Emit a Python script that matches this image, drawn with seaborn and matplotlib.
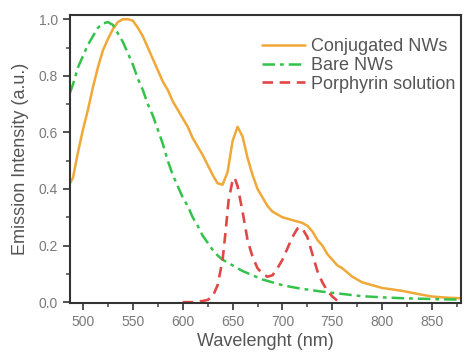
import numpy as np
import pandas as pd
import matplotlib
matplotlib.use("Agg")
import matplotlib.pyplot as plt
from matplotlib.ticker import MultipleLocator, FormatStrFormatter
import seaborn as sns

# ---- data ----
conj_nm = [487, 490, 495, 500, 505, 510, 515, 520, 525, 530, 535, 540, 545, 550,
           555, 560, 565, 570, 575, 580, 585, 590, 595, 600, 605, 610, 615, 620,
           625, 630, 635, 640, 645, 650, 655, 660, 665, 670, 675, 680, 685, 690,
           695, 700, 705, 710, 715, 720, 725, 730, 735, 740, 745, 750, 755, 760,
           770, 780, 790, 800, 810, 820, 830, 840, 850, 860, 870, 878]
conj_val = [0.42, 0.44, 0.53, 0.61, 0.68, 0.76, 0.83, 0.89, 0.93, 0.965, 0.99, 1.0, 1.0, 0.995,
            0.97, 0.94, 0.90, 0.86, 0.82, 0.78, 0.75, 0.71, 0.68, 0.65, 0.62, 0.58, 0.55, 0.52,
            0.485, 0.45, 0.42, 0.415, 0.46, 0.57, 0.62, 0.585, 0.51, 0.45, 0.40, 0.37, 0.34, 0.32,
            0.31, 0.30, 0.295, 0.29, 0.285, 0.28, 0.27, 0.25, 0.22, 0.20, 0.17, 0.15, 0.13, 0.12,
            0.09, 0.07, 0.06, 0.05, 0.045, 0.04, 0.033, 0.026, 0.02, 0.017, 0.015, 0.014]

bare_nm = [487, 490, 495, 500, 505, 510, 515, 520, 525, 530, 535, 540, 545, 550,
           555, 560, 565, 570, 575, 580, 585, 590, 595, 600, 605, 610, 615, 620,
           625, 630, 635, 640, 645, 650, 660, 670, 680, 690, 700, 710, 720, 730,
           740, 750, 760, 770, 780, 800, 820, 840, 860, 878]
bare_val = [0.74, 0.77, 0.83, 0.87, 0.91, 0.94, 0.97, 0.985, 0.99, 0.98, 0.95, 0.92, 0.88, 0.84,
            0.79, 0.75, 0.70, 0.66, 0.61, 0.56, 0.50, 0.45, 0.41, 0.37, 0.34, 0.30, 0.27, 0.235,
            0.21, 0.185, 0.165, 0.15, 0.14, 0.13, 0.11, 0.095, 0.08, 0.07, 0.06, 0.053, 0.047, 0.042,
            0.037, 0.033, 0.029, 0.025, 0.021, 0.017, 0.014, 0.012, 0.01, 0.009]

porph_nm = [600, 610, 615, 620, 625, 630, 635, 640, 643, 646, 650, 652, 655, 660,
            665, 670, 675, 680, 685, 690, 695, 700, 705, 710, 715, 718, 720, 725,
            730, 735, 740, 745, 750, 755, 760]
porph_val = [0.0, 0.0, 0.002, 0.004, 0.008, 0.02, 0.06, 0.15, 0.25, 0.36, 0.43, 0.44, 0.41, 0.32,
             0.22, 0.16, 0.12, 0.10, 0.09, 0.095, 0.12, 0.15, 0.19, 0.23, 0.26, 0.265, 0.26, 0.23,
             0.17, 0.11, 0.07, 0.04, 0.02, 0.005, 0.0]

labels = ["Conjugated NWs", "Bare NWs", "Porphyrin solution"]
x_ticks = [500, 550, 600, 650, 700, 750, 800, 850]
y_ticks = [0.0, 0.2, 0.4, 0.6, 0.8, 1.0]

sns.set_style("ticks")
plt.rcParams["font.family"] = ["Liberation Sans", "DejaVu Sans"]

fig = plt.figure(figsize=(4.65, 3.54), dpi=100)
ax = fig.add_axes([70 / 465, (354 - 303) / 354, 391 / 465, 288 / 354])

df_c = pd.DataFrame({"nm": conj_nm, "val": conj_val})
df_b = pd.DataFrame({"nm": bare_nm, "val": bare_val})
df_p = pd.DataFrame({"nm": porph_nm, "val": porph_val})

sns.lineplot(data=df_c, x="nm", y="val", ax=ax, color="#F0A838", lw=1.8,
             label=labels[0])
sns.lineplot(data=df_b, x="nm", y="val", ax=ax, color="#33C24A", lw=1.8,
             label=labels[1])
sns.lineplot(data=df_p, x="nm", y="val", ax=ax, color="#E04848", lw=1.9,
             label=labels[2])
lines = ax.get_lines()
lines[1].set_dashes([5, 2, 1.5, 2])
lines[2].set_dashes([4, 2.5])

ax.set_xlim(487, 879)
ax.set_ylim(-0.003, 1.015)
ax.set_xticks(x_ticks)
ax.set_yticks(y_ticks)
ax.xaxis.set_minor_locator(MultipleLocator(25))
ax.yaxis.set_minor_locator(MultipleLocator(0.1))
ax.yaxis.set_major_formatter(FormatStrFormatter("%.1f"))

ax.tick_params(which="major", direction="out", length=5, width=1.3,
               color="#444444", labelsize=10, labelcolor="#7a7a7a")
ax.tick_params(which="minor", direction="out", length=3, width=1.1,
               color="#444444")
for s in ax.spines.values():
    s.set_visible(True)
    s.set_color("#333333")
    s.set_linewidth(1.5)

ax.set_xlabel("Wavelenght (nm)", fontsize=13, color="#555555", labelpad=3)
ax.set_ylabel("Emission Intensity (a.u.)", fontsize=13, color="#555555", labelpad=7)

leg = ax.legend(loc="upper right", bbox_to_anchor=(0.985, 0.92), frameon=False,
                fontsize=13, handlelength=2.4, handletextpad=0.3,
                labelspacing=0.1, borderpad=0, borderaxespad=0)
for t in leg.get_texts():
    t.set_color("#555555")

fig.savefig("out.png", dpi=100)
